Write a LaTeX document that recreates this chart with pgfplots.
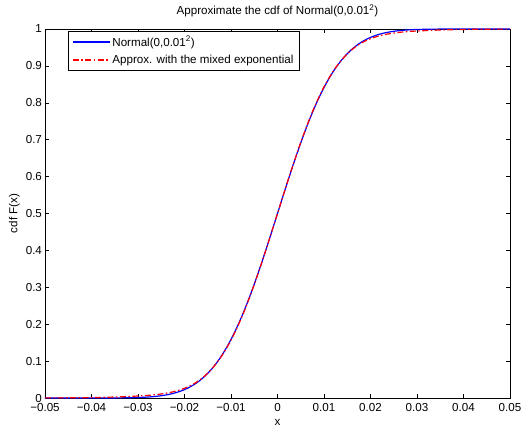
\documentclass[border=0pt]{standalone}
\usepackage{fontspec}
\setmainfont{Liberation Sans}
\usepackage{pgfplots}
\pgfplotsset{compat=1.18}
\newcommand\fs{\fontsize{11.6bp}{13.5bp}\selectfont}
\begin{document}
\fs
\begin{tikzpicture}
\begin{axis}[
  scale only axis,
  width=465bp, height=369bp,
  xmin=-0.05, xmax=0.05, ymin=0, ymax=1,
  scaled x ticks=false, scaled y ticks=false,
  xtick={-0.05,-0.04,-0.03,-0.02,-0.01,0,0.01,0.02,0.03,0.04,0.05},
  xticklabels={−0.05,−0.04,−0.03,−0.02,−0.01,0,0.01,0.02,0.03,0.04,0.05},
  ytick={0,0.1,0.2,0.3,0.4,0.5,0.6,0.7,0.8,0.9,1},
  yticklabels={0,0.1,0.2,0.3,0.4,0.5,0.6,0.7,0.8,0.9,1},
  tick align=inside,
  major tick length=4bp,
  tick style={black, line width=0.5bp},
  axis line style={line width=0.6bp},
  tick label style={font=\fs},
  xticklabel style={yshift=-1.5bp},
  yticklabel style={xshift=1bp},
  title={Approximate the cdf of Normal(0,0.01\textsuperscript{2})},
  title style={font=\fs, yshift=2bp},
  xlabel={x}, ylabel={cdf F(x)},
  label style={font=\fs},
  xlabel style={yshift=0bp},
  ylabel style={yshift=-2bp},
  legend style={at={(0.0495,0.9946)}, anchor=north west,
    font=\fs, legend cell align=left, inner xsep=4bp, inner ysep=3bp,
    row sep=3bp},
  legend image code/.code={\draw[#1] (0bp,0bp) -- (37bp,0bp);},
]
\addplot[blue, line width=1.2bp, smooth] coordinates {
(-0.05,0.0000003) (-0.045,0.0000034) (-0.04,0.00003) (-0.0375,0.00009) (-0.035,0.00023)
(-0.0325,0.00058) (-0.03,0.00135) (-0.02875,0.00202) (-0.0275,0.00298) (-0.02625,0.00433)
(-0.025,0.00621) (-0.02375,0.00878) (-0.0225,0.01222) (-0.02125,0.01680) (-0.02,0.02275)
(-0.01875,0.03040) (-0.0175,0.04006) (-0.01625,0.05208) (-0.015,0.06681) (-0.01375,0.08456)
(-0.0125,0.10565) (-0.01125,0.13029) (-0.01,0.15866) (-0.00875,0.19079) (-0.0075,0.22663)
(-0.00625,0.26599) (-0.005,0.30854) (-0.00375,0.35383) (-0.0025,0.40129) (-0.00125,0.45026)
(0,0.5)
(0.00125,0.54974) (0.0025,0.59871) (0.00375,0.64617) (0.005,0.69146) (0.00625,0.73401)
(0.0075,0.77337) (0.00875,0.80921) (0.01,0.84134) (0.01125,0.86971) (0.0125,0.89435)
(0.01375,0.91544) (0.015,0.93319) (0.01625,0.94792) (0.0175,0.95994) (0.01875,0.96960)
(0.02,0.97725) (0.02125,0.98320) (0.0225,0.98778) (0.02375,0.99122) (0.025,0.99379)
(0.02625,0.99567) (0.0275,0.99702) (0.02875,0.99798) (0.03,0.99865) (0.0325,0.99942)
(0.035,0.99977) (0.0375,0.99991) (0.04,0.99997) (0.045,0.9999966) (0.05,0.9999997)
};
\addlegendentry{Normal(0,0.01\textsuperscript{2})}
\addplot[red, line width=1.2bp, smooth, dash pattern=on 6bp off 2.5bp on 1.5bp off 2.5bp] coordinates {
(-0.05,0.0003) (-0.045,0.0005) (-0.04,0.0012) (-0.035,0.0027) (-0.03,0.0054)
(-0.0275,0.0075) (-0.025,0.0110) (-0.0225,0.0167) (-0.02,0.0263) (-0.0175,0.0421)
(-0.015,0.0673) (-0.0125,0.1047) (-0.01,0.1567) (-0.0075,0.2246) (-0.005,0.3073)
(-0.0025,0.4008) (0,0.5)
(0.0025,0.5992) (0.005,0.6927) (0.0075,0.7754) (0.01,0.8433) (0.0125,0.8953)
(0.015,0.9327) (0.0175,0.9579) (0.02,0.9737) (0.0225,0.9833) (0.025,0.9890)
(0.0275,0.9925) (0.03,0.9946) (0.035,0.9973) (0.04,0.9988) (0.045,0.9995) (0.05,0.9997)
};
\addlegendentry{Approx. with the mixed exponential}
\end{axis}
\pgfresetboundingbox
\useasboundingbox ([xshift=-45bp,yshift=-31bp]current axis.south west) rectangle ([xshift=18bp,yshift=29bp]current axis.north east);
\end{tikzpicture}
\end{document}
